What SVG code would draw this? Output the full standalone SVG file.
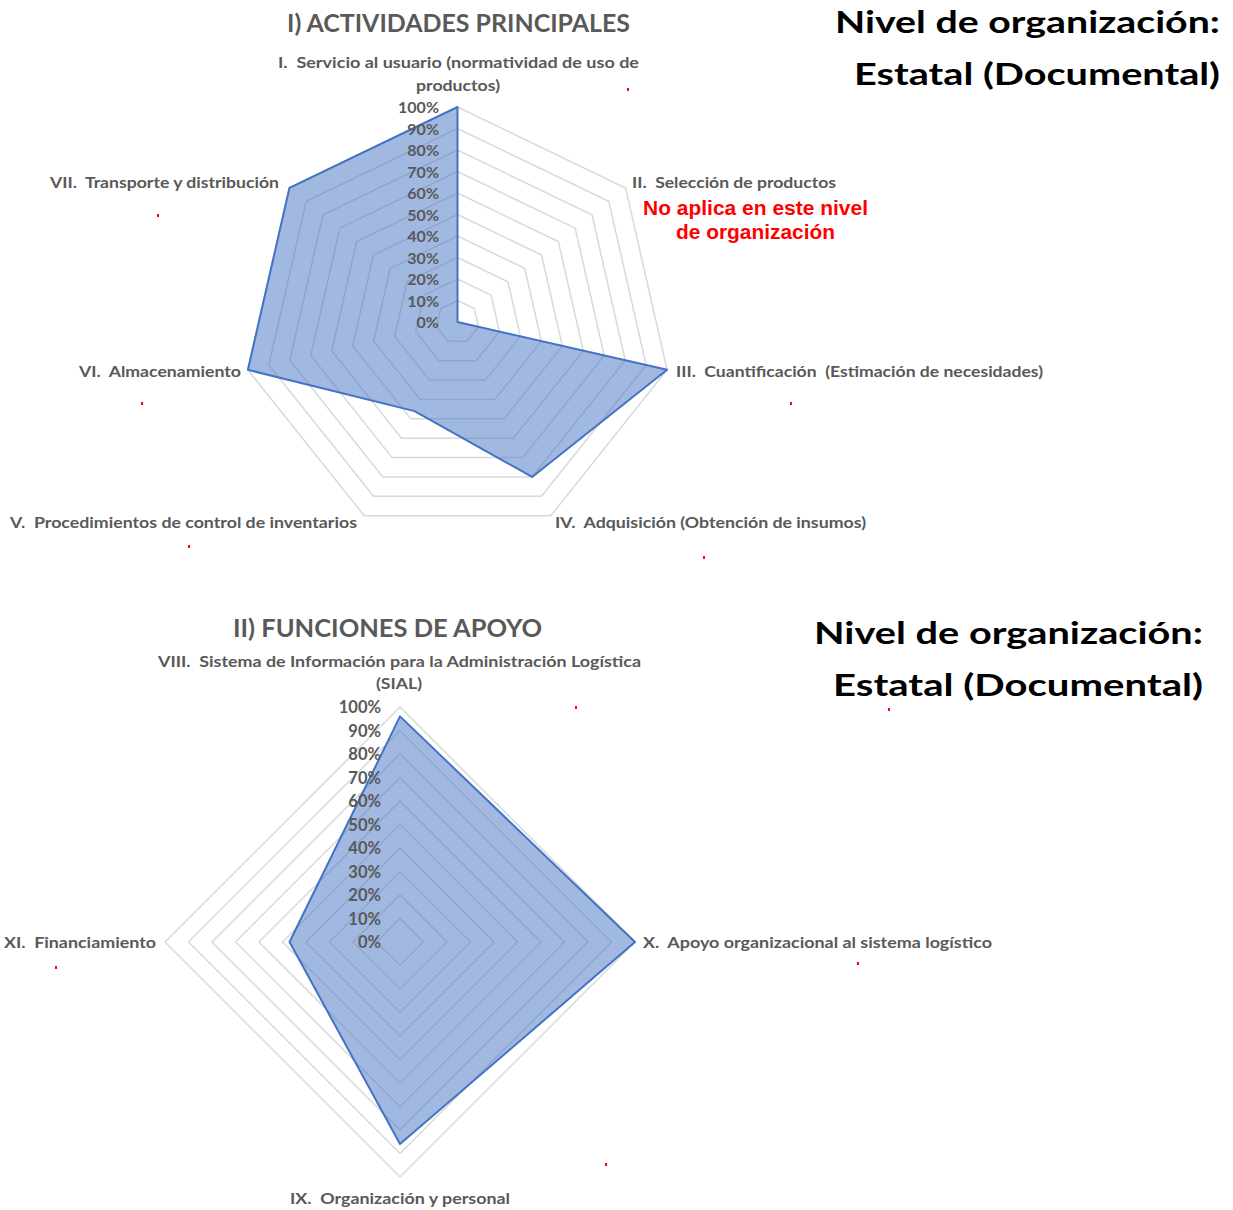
<svg xmlns="http://www.w3.org/2000/svg" width="1233" height="1210" viewBox="0 0 1233 1210">
<style>
.grid{fill:none;stroke:#d9d9d9;stroke-width:1.5}
.series{fill:#4472C4;fill-opacity:0.5;stroke:#4472C4;stroke-width:2;stroke-linejoin:round}
.lbl{font-family:Lato,"Liberation Sans",sans-serif;font-weight:bold;font-size:16px;fill:#595959;white-space:pre}
.pct{font-family:Lato,"Liberation Sans",sans-serif;font-weight:bold;font-size:16px;fill:#595959;text-anchor:end}
.pct2{font-size:16.5px}
.ttl{font-family:Lato,"Liberation Sans",sans-serif;font-weight:bold;font-size:24px;fill:#595959}
.lvl{font-family:Lato,"Liberation Sans",sans-serif;font-weight:bold;font-size:31px;fill:#000}
.na{font-family:"Liberation Sans",Arial,sans-serif;font-weight:bold;font-size:20px;fill:#ff0000;text-anchor:middle}
.dot{fill:#ff0000}
</style>
<rect width="1233" height="1210" fill="#ffffff"/>

<g id="chart1">
  <g id="chart1-grid">
    <polygon class="grid" points="457.5,300.5 474.31,308.59 478.46,326.78 466.83,341.37 448.17,341.37 436.54,326.78 440.69,308.59"/>
    <polygon class="grid" points="457.5,279 491.12,295.19 499.42,331.57 476.16,360.74 438.84,360.74 415.58,331.57 423.88,295.19"/>
    <polygon class="grid" points="457.5,257.5 507.93,281.78 520.38,336.35 485.49,380.11 429.51,380.11 394.62,336.35 407.07,281.78"/>
    <polygon class="grid" points="457.5,236 524.74,268.38 541.34,341.14 494.81,399.48 420.19,399.48 373.66,341.14 390.26,268.38"/>
    <polygon class="grid" points="457.5,214.5 541.55,254.97 562.30,345.92 504.14,418.85 410.86,418.85 352.70,345.92 373.45,254.97"/>
    <polygon class="grid" points="457.5,193 558.36,241.57 583.27,350.71 513.47,438.23 401.53,438.23 331.73,350.71 356.64,241.57"/>
    <polygon class="grid" points="457.5,171.5 575.17,228.17 604.23,355.49 522.80,457.60 392.20,457.60 310.77,355.49 339.83,228.17"/>
    <polygon class="grid" points="457.5,150 591.98,214.76 625.19,360.27 532.13,476.97 382.87,476.97 289.81,360.27 323.02,214.76"/>
    <polygon class="grid" points="457.5,128.5 608.78,201.35 646.15,365.06 541.46,496.34 373.54,496.34 268.85,365.06 306.22,201.35"/>
    <polygon class="grid" points="457.5,107 625.59,187.95 667.11,369.84 550.79,515.71 364.21,515.71 247.89,369.84 289.41,187.95"/>
  </g>
  <polygon id="chart1-series" class="series" points="457.5,107 457.5,322 667.11,369.84 532.13,476.97 414.59,411.11 247.89,369.84 289.41,187.95"/>
  <g id="chart1-scale">
    <text class="pct" x="439" y="113">100%</text>
    <text class="pct" x="439" y="134.5">90%</text>
    <text class="pct" x="439" y="156">80%</text>
    <text class="pct" x="439" y="177.5">70%</text>
    <text class="pct" x="439" y="199">60%</text>
    <text class="pct" x="439" y="220.5">50%</text>
    <text class="pct" x="439" y="242">40%</text>
    <text class="pct" x="439" y="263.5">30%</text>
    <text class="pct" x="439" y="285">20%</text>
    <text class="pct" x="439" y="306.5">10%</text>
    <text class="pct" x="439" y="328">0%</text>
  </g>
  <g id="chart1-labels">
    <text class="ttl" x="287" y="32" textLength="343" lengthAdjust="spacingAndGlyphs">I) ACTIVIDADES PRINCIPALES</text>
    <text class="lbl" x="278" y="68" textLength="361" lengthAdjust="spacingAndGlyphs">I.  Servicio al usuario (normatividad de uso de</text>
    <text class="lbl" x="416" y="91" textLength="84" lengthAdjust="spacingAndGlyphs">productos)</text>
    <text class="lbl" x="632" y="188" textLength="204" lengthAdjust="spacingAndGlyphs">II.  Selección de productos</text>
    <text class="lbl" x="676" y="377" textLength="367" lengthAdjust="spacingAndGlyphs">III.  Cuantificación  (Estimación de necesidades)</text>
    <text class="lbl" x="555" y="528" textLength="311" lengthAdjust="spacingAndGlyphs">IV.  Adquisición (Obtención de insumos)</text>
    <text class="lbl" x="10" y="528" textLength="347" lengthAdjust="spacingAndGlyphs">V.  Procedimientos de control de inventarios</text>
    <text class="lbl" x="79" y="377" textLength="162" lengthAdjust="spacingAndGlyphs">VI.  Almacenamiento</text>
    <text class="lbl" x="50" y="188" textLength="229" lengthAdjust="spacingAndGlyphs">VII.  Transporte y distribución</text>
    <text class="na" x="755.5" y="215" textLength="225" lengthAdjust="spacingAndGlyphs">No aplica en este nivel</text>
    <text class="na" x="755.5" y="239" textLength="159" lengthAdjust="spacingAndGlyphs">de organización</text>
  </g>
</g>

<g id="level1">
  <text class="lvl" x="835" y="33" textLength="385" lengthAdjust="spacingAndGlyphs">Nivel de organización:</text>
  <text class="lvl" x="854" y="85" textLength="366" lengthAdjust="spacingAndGlyphs">Estatal (Documental)</text>
</g>

<g id="chart2">
  <g id="chart2-grid">
    <polygon class="grid" points="400,918.5 423.5,942 400,965.5 376.5,942"/>
    <polygon class="grid" points="400,895 447,942 400,989 353,942"/>
    <polygon class="grid" points="400,871.5 470.5,942 400,1012.5 329.5,942"/>
    <polygon class="grid" points="400,848 494,942 400,1036 306,942"/>
    <polygon class="grid" points="400,824.5 517.5,942 400,1059.5 282.5,942"/>
    <polygon class="grid" points="400,801 541,942 400,1083 259,942"/>
    <polygon class="grid" points="400,777.5 564.5,942 400,1106.5 235.5,942"/>
    <polygon class="grid" points="400,754 588,942 400,1130 212,942"/>
    <polygon class="grid" points="400,730.5 611.5,942 400,1153.5 188.5,942"/>
    <polygon class="grid" points="400,707 635,942 400,1177 165,942"/>
  </g>
  <polygon id="chart2-series" class="series" points="400,716.4 635,942 400,1144.1 289.55,942"/>
  <g id="chart2-scale">
    <text class="pct pct2" x="381" y="713">100%</text>
    <text class="pct pct2" x="381" y="736.5">90%</text>
    <text class="pct pct2" x="381" y="760">80%</text>
    <text class="pct pct2" x="381" y="783.5">70%</text>
    <text class="pct pct2" x="381" y="807">60%</text>
    <text class="pct pct2" x="381" y="830.5">50%</text>
    <text class="pct pct2" x="381" y="854">40%</text>
    <text class="pct pct2" x="381" y="877.5">30%</text>
    <text class="pct pct2" x="381" y="901">20%</text>
    <text class="pct pct2" x="381" y="924.5">10%</text>
    <text class="pct pct2" x="381" y="948">0%</text>
  </g>
  <g id="chart2-labels">
    <text class="ttl" x="233" y="637" textLength="309" lengthAdjust="spacingAndGlyphs">II) FUNCIONES DE APOYO</text>
    <text class="lbl" x="158" y="667" textLength="483" lengthAdjust="spacingAndGlyphs">VIII.  Sistema de Información para la Administración Logística</text>
    <text class="lbl" x="376" y="689" textLength="46" lengthAdjust="spacingAndGlyphs">(SIAL)</text>
    <text class="lbl" x="643" y="948" textLength="349" lengthAdjust="spacingAndGlyphs">X.  Apoyo organizacional al sistema logístico</text>
    <text class="lbl" x="4" y="948" textLength="152" lengthAdjust="spacingAndGlyphs">XI.  Financiamiento</text>
    <text class="lbl" x="290" y="1204" textLength="220" lengthAdjust="spacingAndGlyphs">IX.  Organización y personal</text>
  </g>
</g>

<g id="level2">
  <text class="lvl" x="814" y="644" textLength="389" lengthAdjust="spacingAndGlyphs">Nivel de organización:</text>
  <text class="lvl" x="833" y="696" textLength="370" lengthAdjust="spacingAndGlyphs">Estatal (Documental)</text>
</g>

<g id="red-marks">
  <rect class="dot" x="627" y="88" width="2" height="3"/>
  <rect class="dot" x="157" y="214" width="2" height="3"/>
  <rect class="dot" x="790" y="402" width="2" height="3"/>
  <rect class="dot" x="141" y="402" width="2" height="3"/>
  <rect class="dot" x="188" y="545" width="2" height="3"/>
  <rect class="dot" x="703" y="556" width="2" height="3"/>
  <rect class="dot" x="575" y="706" width="2" height="3"/>
  <rect class="dot" x="888" y="708" width="2" height="3"/>
  <rect class="dot" x="55" y="966" width="2" height="3"/>
  <rect class="dot" x="857" y="962" width="2" height="3"/>
  <rect class="dot" x="605" y="1163" width="2" height="3"/>
</g>
</svg>
